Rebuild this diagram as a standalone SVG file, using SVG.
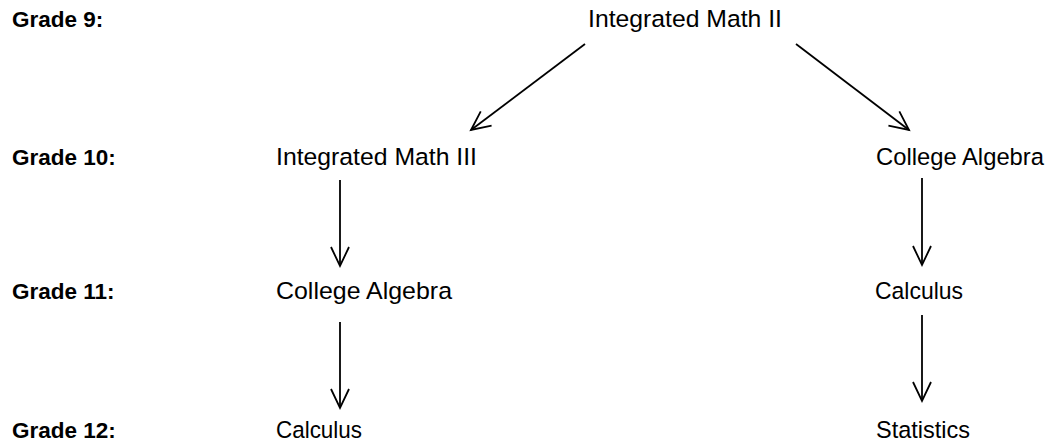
<svg xmlns="http://www.w3.org/2000/svg" width="1048" height="447" viewBox="0 0 1048 447">
<style>
.g{font-family:"Liberation Sans",Arial,sans-serif;font-weight:bold;font-size:22.5px;fill:#000}
.t{font-family:"Liberation Sans",Arial,sans-serif;font-size:24.5px;fill:#000}
.c{stroke:#000;stroke-width:1.8;fill:none;marker-end:url(#arr)}
</style>
<defs>
<marker id="arr" markerUnits="userSpaceOnUse" markerWidth="26" markerHeight="26" viewBox="-22 -13 26 26" refX="0" refY="0" orient="auto">
<path d="M-19,-9 L0,0 L-19,9" fill="none" stroke="#000" stroke-width="1.8"/>
</marker>
</defs>
<rect width="1048" height="447" fill="#fff"/>
<g id="grades">
<text class="g" x="12" y="27">Grade 9:</text>
<text class="g" x="12" y="165">Grade 10:</text>
<text class="g" x="12" y="299">Grade 11:</text>
<text class="g" x="12" y="438">Grade 12:</text>
</g>
<g id="n-im2"><text class="t" x="588" y="27" textLength="194" lengthAdjust="spacingAndGlyphs">Integrated Math II</text></g>
<g id="n-im3"><text class="t" x="276" y="165" textLength="201" lengthAdjust="spacingAndGlyphs">Integrated Math III</text></g>
<g id="n-ca-r"><text class="t" x="876" y="165" textLength="168" lengthAdjust="spacingAndGlyphs">College Algebra</text></g>
<g id="n-ca-l"><text class="t" x="276" y="299" textLength="176" lengthAdjust="spacingAndGlyphs">College Algebra</text></g>
<g id="n-calc-r"><text class="t" x="875" y="299" textLength="88" lengthAdjust="spacingAndGlyphs">Calculus</text></g>
<g id="n-calc-l"><text class="t" x="276" y="438" textLength="86" lengthAdjust="spacingAndGlyphs">Calculus</text></g>
<g id="n-stat"><text class="t" x="876" y="438" textLength="94" lengthAdjust="spacingAndGlyphs">Statistics</text></g>
<g id="connectors">
<line class="c" x1="585" y1="44" x2="471" y2="130"/>
<line class="c" x1="796" y1="44" x2="909" y2="130"/>
<line class="c" x1="340" y1="180" x2="340" y2="266"/>
<line class="c" x1="340" y1="322" x2="340" y2="408"/>
<line class="c" x1="922" y1="178" x2="922" y2="265"/>
<line class="c" x1="922" y1="315" x2="922" y2="401"/>
</g>
</svg>
